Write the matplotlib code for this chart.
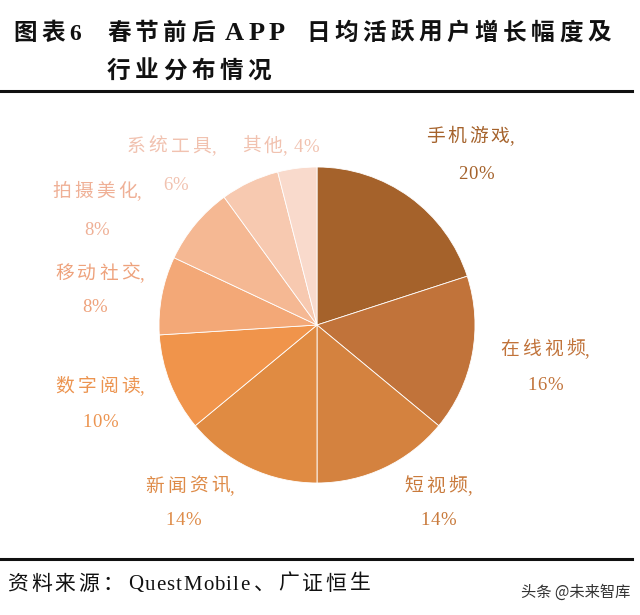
import matplotlib
matplotlib.use("Agg")
import matplotlib.pyplot as plt

plt.rcParams["font.family"] = ["Liberation Serif", "Noto Sans CJK SC", "DejaVu Sans"]

categories = ["手机游戏", "在线视频", "短视频", "新闻资讯", "数字阅读",
              "移动社交", "拍摄美化", "系统工具", "其他"]
shares = [20, 16, 14, 14, 10, 8, 8, 6, 4]
colors = ["#A5622B", "#C1733A", "#D4823F", "#E08B42", "#F0944B",
          "#F3A877", "#F5B893", "#F7C9B0", "#F9DACC"]
text_colors = ["#A5622B", "#C1733A", "#C97A3C", "#DE8B48", "#EC9450",
               "#EEA27C", "#EFB096", "#F1C2B0", "#F1C2B0"]

W, H = 640, 615
fig = plt.figure(figsize=(W / 100, H / 100), dpi=100)
renderer = fig.canvas.get_renderer()


def tracked(x, y, s, size, track, ha="left", **kw):
    """draw s char by char with extra spacing; x, y in pixels (y = centre line, from top)"""
    base = y + size * 100 / 72 * 0.36
    arts, widths, gaps = [], [], []
    for ch in s:
        gaps.append(0 if ch in ",%" else track)
        if ch == " ":
            arts.append(None)
            widths.append(size * 100 / 72 * 0.25)
            continue
        t = fig.text(0, 0, ch, fontsize=size, va="baseline", ha="left", **kw)
        arts.append(t)
        widths.append(t.get_window_extent(renderer).width)
    gaps[0] = 0
    total = sum(widths) + sum(gaps)
    if ha == "center":
        x -= total / 2
    for t, w, g in zip(arts, widths, gaps):
        x += g
        if t is not None:
            t.set_position((x / W, 1 - base / H))
        x += w


# pie placed by pixel centre / radius
cx, cy, r = 317, 325, 158
ax = fig.add_axes([(cx - r) / W, (H - cy - r) / H, 2 * r / W, 2 * r / H])
ax.pie(shares, colors=colors, startangle=90, counterclock=False,
       radius=1.0, wedgeprops=dict(linewidth=0.6, edgecolor="#FFFFFF"))
ax.set_xlim(-1, 1)
ax.set_ylim(-1, 1)
ax.set_aspect("equal")
ax.axis("off")

# label layout in pixels: (name x, y, value x, y), centred
label_pos = [
    (470, 135, 476, 172),
    (545, 348, 545, 383),
    (438, 485, 438, 518),
    (190, 485, 183, 518),
    (100, 385, 100, 420),
    (100, 272, 95, 305),
    (97, 190, 97, 228),
    (None, 145, 176, 183),
]
fs, tr = 13.5, 3
for i, (x1, y1, x2, y2) in enumerate(label_pos):
    c = text_colors[i]
    if x1 is None:
        tracked(127, y1, categories[i] + ",", fs, tr, color=c)
    else:
        tracked(x1, y1, categories[i] + ",", fs, tr, ha="center", color=c)
    tracked(x2, y2, f"{shares[i]}%", fs, 1, ha="center", color=c)
tracked(242, 145, f"{categories[8]},", fs, tr, color=text_colors[8])
tracked(294, 145, f"{shares[8]}%", fs, 1, color=text_colors[8])

# title
tk = dict(color="#111111", fontweight="bold")
tracked(13, 31, "图表6", 17, 4.5, **tk)
tracked(107, 31, "春节前后", 17, 4.5, **tk)
tracked(225, 31, "APP", 19, 4, **tk)
tracked(306, 31, "日均活跃用户增长幅度及", 17, 4.5, **tk)
tracked(107, 69, "行业分布情况", 17, 4.5, **tk)

# rules
fig.add_artist(plt.Line2D([0, 632 / W], [1 - 91 / H] * 2, color="#111111", lw=2.2))
fig.add_artist(plt.Line2D([0, 632 / W], [1 - 559 / H] * 2, color="#111111", lw=2.2))

# footer
tracked(7, 582, "资料来源：", 15, 3, color="#111111")
tracked(128, 582, "QuestMobile", 15, 1.2, color="#111111")
tracked(254, 582, "、广证恒生", 15, 3, color="#111111")
fig.text(630 / W, 1 - 592 / H, "头条 @未来智库", fontsize=11, ha="right", va="center",
         color="#333333", family=["Noto Sans CJK SC", "DejaVu Sans"])

fig.savefig("out.png", dpi=100)
